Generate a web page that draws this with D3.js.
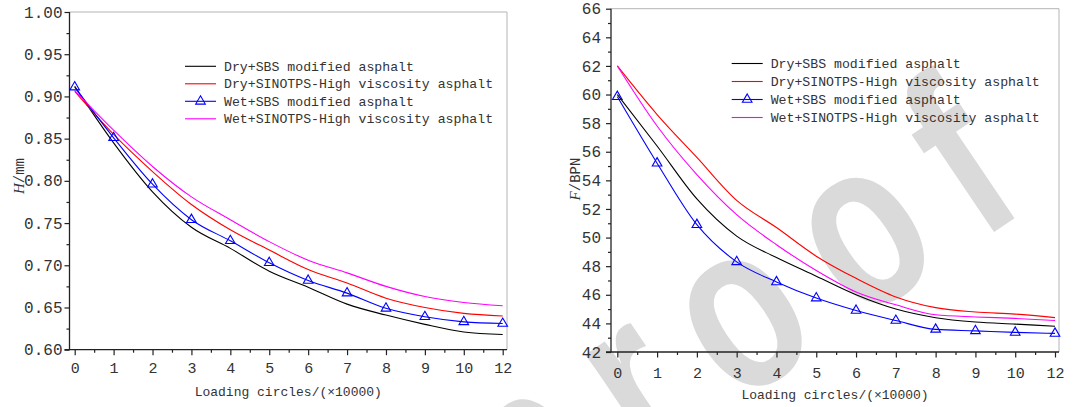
<!DOCTYPE html>
<meta charset="utf-8">
<script src="https://cdn.jsdelivr.net/npm/d3@7"></script>
<style type="text/css">
    body { margin: 0; background: #fff; }
    .tick text { font-family: "Liberation Mono", monospace; fill: #333; }
    .legend { font-family: "Liberation Mono", monospace; font-size: 13.2px; fill: #333; }
    .xtitle { font-family: "Liberation Mono", monospace; font-size: 13px; fill: #333; }
    .ytitle { font-family: "Liberation Mono", monospace; font-size: 14px; fill: #333; }
</style>

<body>
    <script type="text/javascript">
        // categories on the x axis (11 is not used, points are evenly spaced)
        var xLabels = ["0", "1", "2", "3", "4", "5", "6", "7", "8", "9", "10", "12"];

        var seriesNames = ["Dry+SBS modified asphalt", "Dry+SINOTPS-High viscosity asphalt",
            "Wet+SBS modified asphalt", "Wet+SINOTPS-High viscosity asphalt"];
        var seriesColors = ["#000000", "#ff0000", "#0000ff", "#ff00ff"];

        // left panel: H / mm
        var hDrySBS = [0.912, 0.845, 0.787, 0.745, 0.720, 0.693, 0.674, 0.654, 0.641, 0.630, 0.621, 0.618];
        var hDrySINO = [0.906, 0.855, 0.811, 0.772, 0.742, 0.718, 0.695, 0.679, 0.661, 0.650, 0.643, 0.640];
        var hWetSBS = [0.911, 0.851, 0.796, 0.754, 0.729, 0.703, 0.682, 0.667, 0.649, 0.639, 0.633, 0.631];
        var hWetSINO = [0.907, 0.860, 0.817, 0.781, 0.754, 0.728, 0.706, 0.691, 0.675, 0.663, 0.656, 0.652];
        var hTicks = [0.60, 0.65, 0.70, 0.75, 0.80, 0.85, 0.90, 0.95, 1.00];

        // right panel: F / BPN
        var fDrySBS = [60.0, 56.4, 52.7, 50.1, 48.6, 47.3, 46.0, 45.0, 44.4, 44.1, 43.95, 43.8];
        var fDrySINO = [62.0, 58.6, 55.6, 52.6, 50.7, 48.7, 47.15, 45.85, 45.1, 44.8, 44.65, 44.4];
        var fWetSBS = [59.85, 55.2, 50.9, 48.3, 46.9, 45.77, 44.9, 44.2, 43.58, 43.48, 43.37, 43.3];
        var fWetSINO = [62.0, 57.8, 54.4, 51.6, 49.5, 47.7, 46.2, 45.3, 44.6, 44.45, 44.35, 44.2];
        var fTicks = [42, 44, 46, 48, 50, 52, 54, 56, 58, 60, 62, 64, 66];

        var width = 1079, height = 407;

        var svg = d3.select("body").append("svg")
            .attr("width", width)
            .attr("height", height);

        // watermark behind everything
        svg.append("text")
            .attr("transform", "translate(524,549) rotate(-34) scale(0.75,1)")
            .style("font-family", "'Liberation Sans', Arial, sans-serif")
            .style("font-weight", "bold")
            .style("font-size", "240px")
            .style("letter-spacing", "50px")
            .style("fill", "#dadada")
            .text("proof");

        var panels = [
            {
                series: [hDrySBS, hDrySINO, hWetSBS, hWetSINO], ticks: hTicks, step: 0.05,
                fmt: d3.format(".2f"), domain: [0.60, 1.00],
                left: 69.5, right: 507, top: 12, bottom: 349.7, px0: 74.7, px1: 502.7,
                yPad: 2, xPad: 7.5, legX: 185, legY: 66.3, legDy: 17.5,
                title: "H", unit: "/mm", titleX: 19, titleY: 176, xTitleY: 396
            },
            {
                series: [fDrySBS, fDrySINO, fWetSBS, fWetSINO], ticks: fTicks, step: 2,
                fmt: d3.format("d"), domain: [42, 66],
                left: 611, right: 1059, top: 8.7, bottom: 352, px0: 617.3, px1: 1055,
                yPad: 5, xPad: 10, legX: 731.7, legY: 63.5, legDy: 18,
                title: "F", unit: "/BPN", titleX: 575, titleY: 179, xTitleY: 399
            }
        ];

        panels.forEach(drawPanel);

        function drawPanel(p) {
            var x = d3.scaleLinear()
                .domain([0, xLabels.length - 1])
                .range([p.px0, p.px1]);
            var y = d3.scaleLinear()
                .domain(p.domain)
                .range([p.bottom, p.top]);

            var g = svg.append("g");

            // top and right frame
            g.append("path")
                .attr("d", "M" + p.left + "," + p.top + "H" + p.right + "V" + p.bottom)
                .attr("fill", "none")
                .attr("stroke", "#b4b4b4")
                .attr("stroke-width", 1);

            var yMinor = p.ticks.slice(1).map(function (t) { return t - p.step / 2; });
            var xMinor = d3.range(xLabels.length - 1).map(function (i) { return i + 0.5; });

            var yAx = g.append("g")
                .attr("transform", "translate(" + p.left + ",0)")
                .call(d3.axisLeft(y).tickValues(p.ticks).tickSize(5).tickPadding(p.yPad).tickFormat(p.fmt));
            yAx.selectAll("text").style("font-size", "16px");
            g.append("g")
                .attr("transform", "translate(" + p.left + ",0)")
                .call(d3.axisLeft(y).tickValues(yMinor).tickSize(3).tickFormat(""));

            var xAx = g.append("g")
                .attr("transform", "translate(0," + p.bottom + ")")
                .call(d3.axisBottom(x).tickValues(d3.range(xLabels.length)).tickSize(5.5)
                    .tickPadding(p.xPad).tickFormat(function (i) { return xLabels[i]; }));
            xAx.selectAll("text").style("font-size", "15px");
            g.append("g")
                .attr("transform", "translate(0," + p.bottom + ")")
                .call(d3.axisBottom(x).tickValues(xMinor).tickSize(3).tickFormat(""));

            g.selectAll(".domain").remove();
            g.selectAll(".tick line").attr("stroke", "#222").attr("stroke-width", 1.2);

            // axis lines
            g.append("path")
                .attr("d", "M" + p.left + "," + p.top + "V" + p.bottom)
                .attr("stroke", "#222").attr("stroke-width", 1.3);
            g.append("path")
                .attr("d", "M" + (p.left - 5) + "," + p.bottom + "H" + p.right)
                .attr("stroke", "#222").attr("stroke-width", 1.3);

            var line = d3.line()
                .x(function (d, i) { return x(i); })
                .y(function (d) { return y(d); })
                .curve(d3.curveMonotoneX);

            p.series.forEach(function (s, k) {
                g.append("path")
                    .datum(s)
                    .attr("d", line)
                    .attr("fill", "none")
                    .attr("stroke", seriesColors[k])
                    .attr("stroke-width", 1.1);
            });

            var tri = d3.symbol().type(d3.symbolTriangle).size(40);

            g.selectAll(".marker")
                .data(p.series[2])
                .enter().append("path")
                .attr("class", "marker")
                .attr("d", tri)
                .attr("transform", function (d, i) { return "translate(" + x(i) + "," + y(d) + ")"; })
                .attr("fill", "none")
                .attr("stroke", seriesColors[2])
                .attr("stroke-width", 1.1);

            // legend
            var leg = g.selectAll(".legrow")
                .data(seriesNames)
                .enter().append("g")
                .attr("class", "legrow")
                .attr("transform", function (d, i) { return "translate(" + p.legX + "," + (p.legY + i * p.legDy) + ")"; });

            leg.append("line")
                .attr("x1", 0).attr("x2", 31)
                .attr("stroke", function (d, i) { return seriesColors[i]; })
                .attr("stroke-width", 1.1);

            leg.filter(function (d, i) { return i === 2; })
                .append("path")
                .attr("d", tri)
                .attr("transform", "translate(15.5,0)")
                .attr("fill", "none")
                .attr("stroke", seriesColors[2])
                .attr("stroke-width", 1.1);

            leg.append("text")
                .attr("class", "legend")
                .attr("x", 39)
                .attr("dy", "0.35em")
                .text(String);

            // axis titles
            g.append("text")
                .attr("class", "xtitle")
                .attr("x", (p.left + p.right) / 2)
                .attr("y", p.xTitleY)
                .style("text-anchor", "middle")
                .text("Loading circles/(\u00d710000)");

            var yt = g.append("text")
                .attr("class", "ytitle")
                .attr("transform", "translate(" + p.titleX + "," + p.titleY + ") rotate(-90)")
                .attr("dy", "0.35em")
                .style("text-anchor", "middle");
            yt.append("tspan")
                .style("font-family", "'Liberation Serif', serif")
                .style("font-style", "italic")
                .style("font-size", "15px")
                .text(p.title);
            yt.append("tspan")
                .text(p.unit);
        }
    </script>
</body>
